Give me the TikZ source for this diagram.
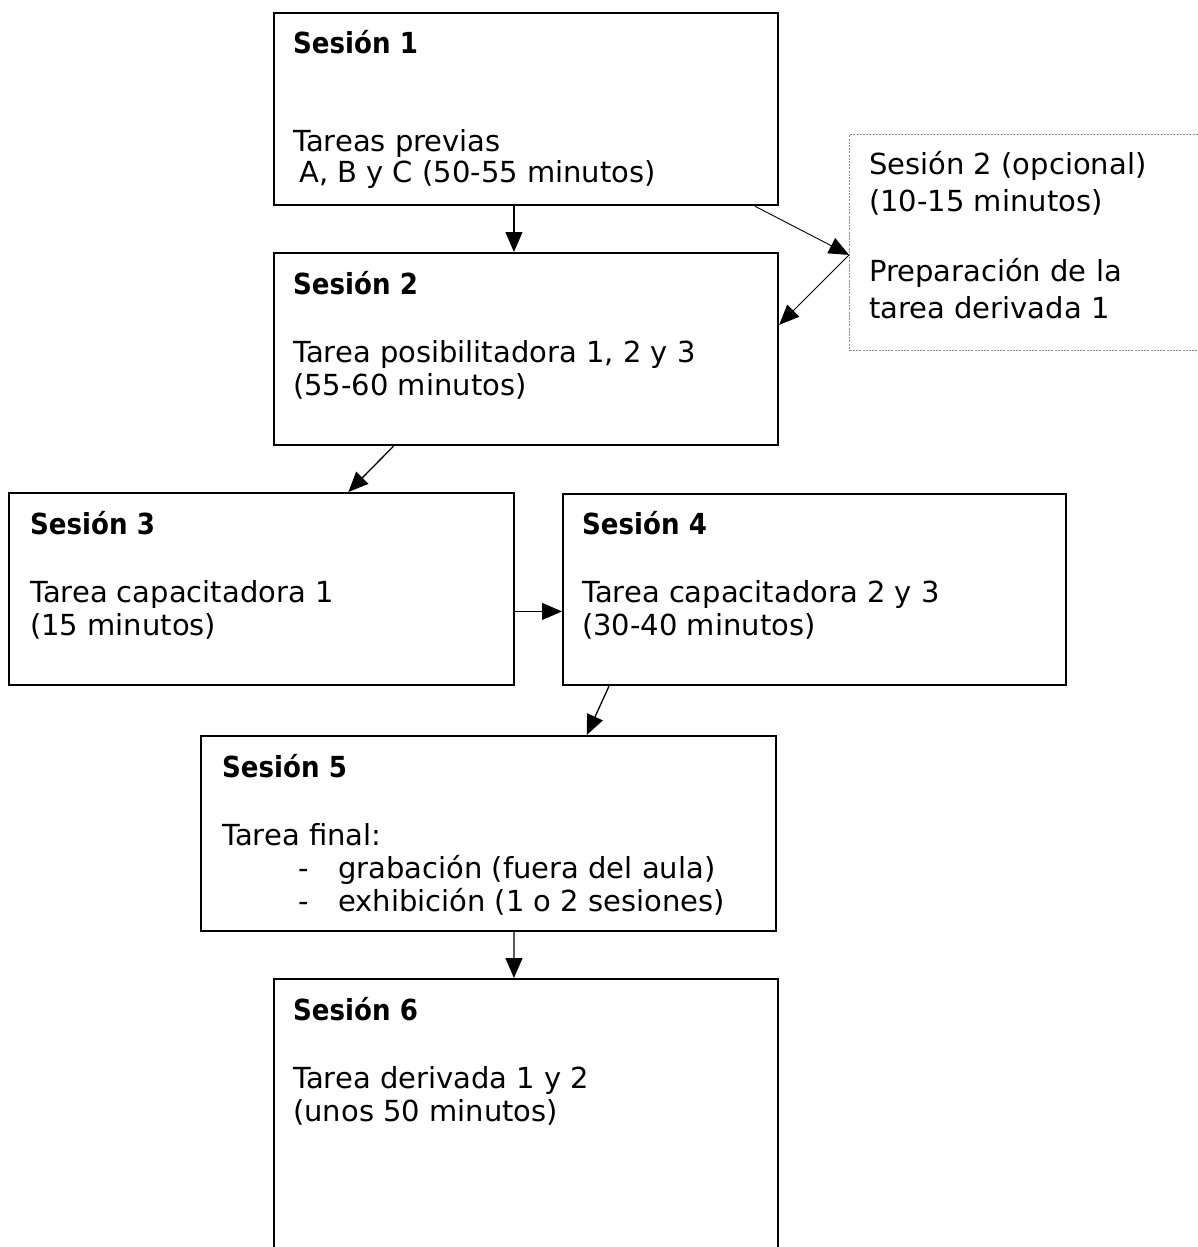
\documentclass[tikz,border=0pt]{standalone}
\usepackage{fontspec}
\usepackage{graphicx}
\setmainfont{DejaVu Sans}
\usetikzlibrary{arrows.meta,calc}
\newcommand{\ttlx}[1]{\scalebox{0.9}[1]{\textbf{#1}}}
\begin{document}
\begin{tikzpicture}[x=1pt,y=-1pt,
  box/.style={draw=black,line width=2.2pt,rectangle,inner sep=0pt,anchor=north west},
  optbox/.style={draw=black!45,line width=1.4pt,dash pattern=on 2pt off 1.2pt,rectangle,inner sep=0pt,anchor=north west},
  arr/.style={line width=1.3pt,-{Triangle[length=20pt,width=17pt]}},
  thinarr/.style={line width=0.9pt,-{Triangle[length=20pt,width=17pt]}},
  txt/.style={anchor=base west,inner sep=0pt,font=\fontsize{29}{33}\selectfont}]
\useasboundingbox (0,0) rectangle (1197,1247);
\fill[white] (0,0) rectangle (1197,1247);

% boxes
\node[box,minimum width=504pt,minimum height=192pt] (b1) at (273,12) {};
\node[box,minimum width=504pt,minimum height=192pt] (b2) at (273,252) {};
\node[optbox,minimum width=370pt,minimum height=216pt] (opt) at (849,134) {};
\node[box,minimum width=505pt,minimum height=192pt] (b3) at (8,492) {};
\node[box,minimum width=503pt,minimum height=191pt] (b4) at (562,493) {};
\node[box,minimum width=575pt,minimum height=195pt] (b5) at (200,735) {};
\node[box,minimum width=504pt,minimum height=300pt] (b6) at (273,978) {};

% texts
\node[txt] (t1) at ($(b1.north west)+(20,42)$) {\begin{minipage}[t]{480pt}\raggedright
\ttlx{Sesión 1}\\[64pt]
Tareas previas\\[-2pt]
\hspace*{6pt}A, B y C (50-55 minutos)\end{minipage}};

\node[txt] (t2) at ($(b2.north west)+(20,42)$) {\begin{minipage}[t]{480pt}\raggedright
\ttlx{Sesión 2}\\[35pt]
Tarea posibilitadora 1, 2 y 3\\
(55-60 minutos)\end{minipage}};

\node[txt] (to) at ($(opt.north west)+(20,40)$) {\begin{minipage}[t]{340pt}\raggedright
Sesión 2 (opcional)\\[4pt]
(10-15 minutos)\\[37pt]
Preparación de la\\[4pt]
tarea derivada 1\end{minipage}};

\node[txt] (t3) at ($(b3.north west)+(22,42)$) {\begin{minipage}[t]{480pt}\raggedright
\ttlx{Sesión 3}\\[35pt]
Tarea capacitadora 1\\
(15 minutos)\end{minipage}};

\node[txt] (t4) at ($(b4.north west)+(20,41)$) {\begin{minipage}[t]{480pt}\raggedright
\ttlx{Sesión 4}\\[35pt]
Tarea capacitadora 2 y 3\\
(30-40 minutos)\end{minipage}};

\node[txt] (t5) at ($(b5.north west)+(22,42)$) {\begin{minipage}[t]{550pt}\raggedright
\ttlx{Sesión 5}\\[35pt]
Tarea final:\\
\makebox[116pt][l]{\hspace*{76pt}-}grabación (fuera del aula)\\
\makebox[116pt][l]{\hspace*{76pt}-}exhibición (1 o 2 sesiones)\end{minipage}};

\node[txt] (t6) at ($(b6.north west)+(20,42)$) {\begin{minipage}[t]{480pt}\raggedright
\ttlx{Sesión 6}\\[35pt]
Tarea derivada 1 y 2\\
(unos 50 minutos)\end{minipage}};

% connectors
\draw[arr] ($(b1.south west)!0.476!(b1.south east)$) -- ($(b2.north west)!0.476!(b2.north east)$);
\draw[thinarr] ($(b1.south west)!0.952!(b1.south east)$) -- ($(opt.north west)!0.556!(opt.south west)$);
\draw[thinarr] ($(opt.north west)!0.556!(opt.south west)$) -- ($(b2.north east)!0.375!(b2.south east)$);
\draw[arr] ($(b2.south west)!0.238!(b2.south east)$) -- ($(b3.north west)!0.671!(b3.north east)$);
\draw[arr] ($(b3.north east)!0.615!(b3.south east)$) coordinate (c34) -- (c34 -| b4.west);
\draw[arr] ($(b4.south west)!0.093!(b4.south east)$) -- ($(b5.north west)!0.67!(b5.north east)$);
\draw[arr] ($(b5.south west)!0.544!(b5.south east)$) -- ($(b6.north west)!0.476!(b6.north east)$);
\end{tikzpicture}
\end{document}
